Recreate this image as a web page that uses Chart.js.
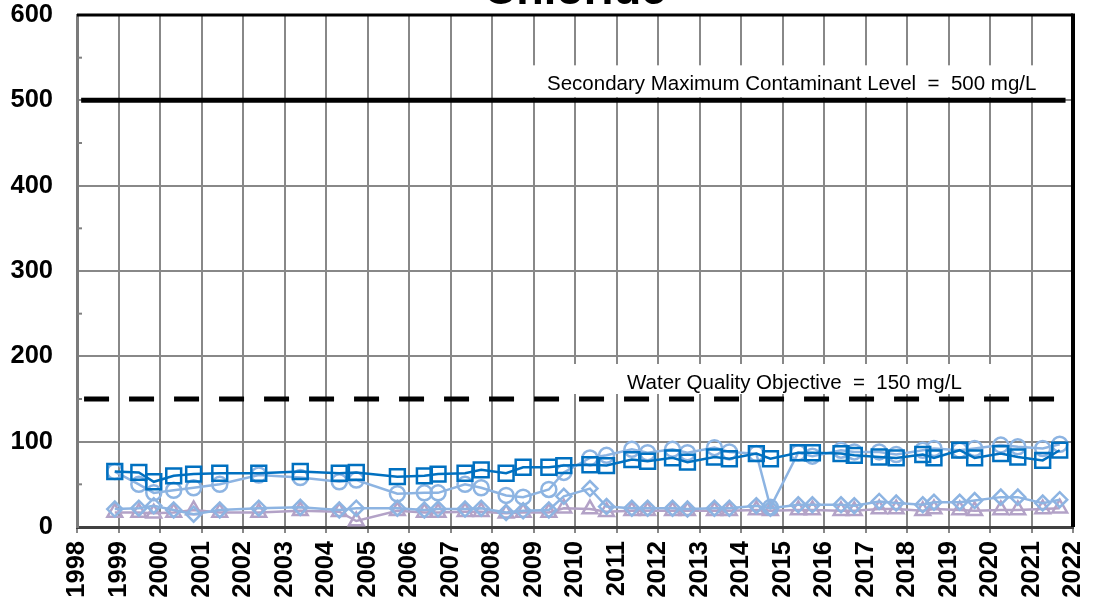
<!DOCTYPE html>
<html>
<head>
<meta charset="utf-8">
<title>Chloride</title>
<script src="https://cdn.jsdelivr.net/npm/chart.js@4/dist/chart.umd.min.js"></script>
<style>
  html, body { margin: 0; padding: 0; background: #fff; }
</style>
</head>
<body>
<canvas id="chloride" width="1093" height="606"></canvas>
<script>
// sampling dates (decimal years) shared by the four wells
const sampleDates = [1998.91, 1999.49, 1999.85, 2000.33, 2000.81, 2001.44, 2002.38, 2003.38, 2004.32, 2004.73,
  2005.72, 2006.37, 2006.70, 2007.35, 2007.74, 2008.34, 2008.75, 2009.37, 2009.73, 2010.36,
  2010.76, 2011.37, 2011.75, 2012.35, 2012.71, 2013.36, 2013.72, 2014.37, 2014.71, 2015.38,
  2015.72, 2016.41, 2016.73, 2017.33, 2017.74, 2018.38, 2018.65, 2019.27, 2019.63, 2020.26,
  2020.67, 2021.27, 2021.68];

// chloride, mg/L
const squareSeries = [65, 64, 53, 60, 62, 63, 63, 65, 63, 64, 59, 60, 62, 63, 67, 63, 70, 70, 72, 73,
  72, 79, 77, 81, 76, 82, 80, 86, 80, 87, 87, 86, 84, 82, 81, 85, 81, 90, 81, 86, 82, 78, 90];
const circleSeries = [65, 50, 40, 43, 46, 50, 61, 58, 53, 55, 39, 40, 40, 50, 46, 37, 35, 44, 64, 81,
  84, 91, 87, 91, 87, 93, 88, 86, 23, 87, 83, 90, 88, 88, 85, 90, 92, 90, 92, 96, 94, 92, 97];
const diamondSeries = [21, 22, 25, 20, 15, 20, 22, 23, 20, 22, 22, 20, 21, 21, 22, 17, 19, 20, 36, 45,
  24, 22, 22, 22, 21, 22, 22, 25, 22, 26, 26, 26, 25, 30, 28, 26, 29, 29, 31, 35, 35, 28, 32];
const triangleSeries = [17, 17, 16, 17, 20, 17, 17, 19, 18, 7, 19, 17, 17, 18, 18, 16, 17, 17, 22, 21,
  18, 19, 19, 19, 19, 19, 19, 20, 19, 20, 20, 19, 19, 21, 21, 19, 21, 20, 19, 20, 20, 21, 22];

const yTicks = [0, 100, 200, 300, 400, 500, 600];
const xYears = [1998, 2022];
const smclLevel = 500;
const wqoLevel = 150;
const smclText = "Secondary Maximum Contaminant Level  =  500 mg/L";
const wqoText = "Water Quality Objective  =  150 mg/L";

const darkBlue = "#0070C0";
const lightBlue = "#8DB4E2";
const lavender = "#B3A2C7";
const tickFont = { family: "Arial, 'Liberation Sans', sans-serif", size: 25.5, weight: "bold" };

function pts(vals) {
  return sampleDates.map((d, i) => ({ x: d, y: vals[i] }));
}

function series(vals, color, style, radius) {
  return {
    data: pts(vals),
    showLine: true,
    borderColor: color,
    borderWidth: 2.5,
    pointStyle: style,
    pointRadius: radius,
    pointBorderColor: color,
    pointBorderWidth: 2.5,
    pointBackgroundColor: "rgba(0,0,0,0)",
  };
}

// title (mostly cut off), label boxes, minor ticks and frame
const decor = {
  id: "decor",
  beforeDatasetsDraw(chart) {
    const { ctx, scales: { x, y } } = chart;
    ctx.save();
    ctx.fillStyle = "#fff";
    ctx.fillRect(520, y.getPixelForValue(smclLevel) - 35, 542, 32);
    ctx.fillRect(562, y.getPixelForValue(wqoLevel) - 35, 436, 30);
    ctx.fillStyle = "#000";
    ctx.font = "20.5px Arial, 'Liberation Sans', sans-serif";
    ctx.textBaseline = "alphabetic";
    ctx.fillText(smclText, 547, y.getPixelForValue(smclLevel) - 10);
    ctx.fillText(wqoText, 627, y.getPixelForValue(wqoLevel) - 10);

    // minor ticks at 50s
    ctx.strokeStyle = "#808080";
    ctx.lineWidth = 2;
    for (let v = 50; v < 600; v += 100) {
      const py = y.getPixelForValue(v);
      ctx.beginPath();
      ctx.moveTo(x.left, py);
      ctx.lineTo(x.left + 5, py);
      ctx.stroke();
    }
    ctx.restore();
  },
  afterDatasetsDraw(chart) {
    const { ctx, chartArea: a } = chart;
    ctx.save();
    ctx.strokeStyle = "#000";
    ctx.lineWidth = 3;
    ctx.beginPath();
    ctx.moveTo(a.left, a.top);
    ctx.lineTo(a.right, a.top);
    ctx.stroke();
    ctx.lineWidth = 4;
    ctx.beginPath();
    ctx.moveTo(a.right, a.top - 1.5);
    ctx.lineTo(a.right, a.bottom);
    ctx.stroke();

    ctx.fillStyle = "#000";
    ctx.font = "bold 45px Arial, 'Liberation Sans', sans-serif";
    ctx.textAlign = "center";
    ctx.textBaseline = "alphabetic";
    ctx.fillText("Chloride", 575, 4);
    ctx.restore();
  },
};

new Chart(document.getElementById("chloride"), {
  type: "scatter",
  data: {
    datasets: [
      series(squareSeries, darkBlue, "rect", 10.5),
      series(circleSeries, lightBlue, "circle", 7.5),
      series(diamondSeries, lightBlue, "rectRot", 7.5),
      series(triangleSeries, lavender, "triangle", 8.5),
      {
        data: [{ x: 1998.1, y: smclLevel }, { x: 2021.82, y: smclLevel }],
        showLine: true,
        borderColor: "#000",
        borderWidth: 5,
        pointRadius: 0,
      },
      {
        data: [{ x: 1998.17, y: wqoLevel }, { x: 2021.62, y: wqoLevel }],
        showLine: true,
        borderColor: "#000",
        borderWidth: 5,
        borderDash: [25, 20],
        pointRadius: 0,
      },
    ],
  },
  options: {
    responsive: false,
    animation: false,
    layout: { padding: { top: 15, right: 20, left: 0, bottom: 0 } },
    plugins: { legend: { display: false }, tooltip: { enabled: false } },
    scales: {
      x: {
        type: "linear",
        min: xYears[0],
        max: xYears[1],
        afterFit: (s) => { s.height = 79; s.paddingLeft = 0; s.paddingRight = 0; },
        grid: { color: "#888", lineWidth: 2, tickLength: 6, tickColor: "#888" },
        border: { color: "#404040", width: 3 },
        ticks: {
          stepSize: 1,
          minRotation: 90,
          maxRotation: 90,
          padding: 8,
          color: "#000",
          font: tickFont,
          callback: (v) => String(v),
        },
      },
      y: {
        min: yTicks[0],
        max: yTicks[yTicks.length - 1],
        afterFit: (s) => { s.width = 77; s.paddingTop = 0; s.paddingBottom = 0; },
        grid: { color: "#888", lineWidth: 2, drawTicks: false },
        border: { color: "#7a7a7a", width: 3 },
        ticks: {
          stepSize: 100,
          padding: 24,
          color: "#000",
          font: tickFont,
          callback: (v) => String(v),
        },
      },
    },
  },
  plugins: [decor],
});
</script>
</body>
</html>
